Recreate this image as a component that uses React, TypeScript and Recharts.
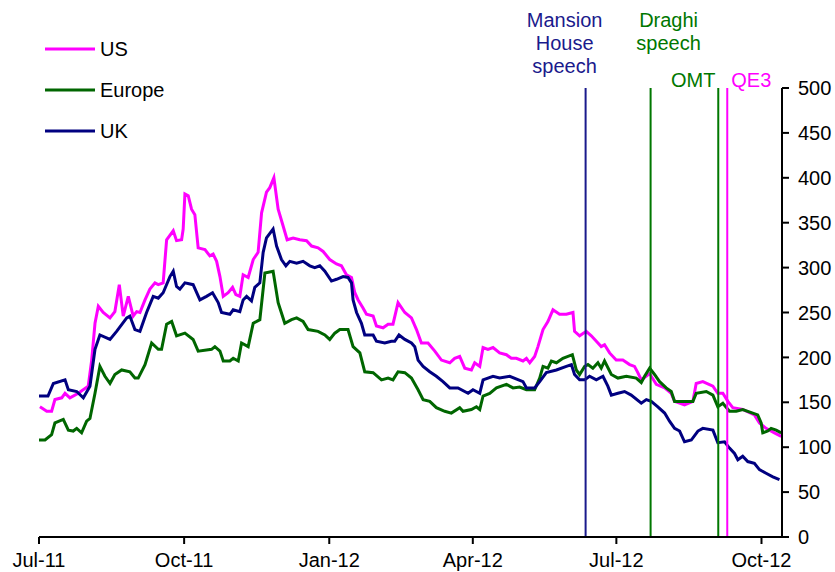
import React from 'react';
import { LineChart, Line, XAxis, YAxis, ReferenceLine } from 'recharts';

// x values are days since 1 Jul 2011
const TICK_DAYS = [0, 92, 184, 275, 366, 458];
const TICK_LABELS = ['Jul-11', 'Oct-11', 'Jan-12', 'Apr-12', 'Jul-12', 'Oct-12'];
const Y_TICKS = [0, 50, 100, 150, 200, 250, 300, 350, 400, 450, 500];

const US: [number, number][] = [
  [0.6, 145], [4.9, 140], [8, 140], [10.1, 153], [14.4, 155], [16.5, 160], [19.6, 155], [24.9, 160],
  [31.2, 168], [33.4, 197], [35.5, 238], [37.6, 257], [40.7, 250], [45, 244], [48.1, 251], [50.9, 281],
  [53.4, 246], [56.6, 268], [59.7, 246], [61.9, 251], [64, 250], [67.2, 264], [70.3, 276], [73.5, 283],
  [75.6, 281], [78.7, 283], [80.9, 331], [85.1, 341], [87.2, 330], [90.4, 331], [91.4, 343], [92.5, 382],
  [94.6, 380], [96.7, 365], [98.8, 359], [100.9, 322], [105.2, 320], [108.3, 313], [110.4, 315], [112.6, 307],
  [114.7, 290], [116.8, 268], [119.9, 272], [122.7, 278], [124.8, 270], [127.3, 268], [129.4, 292], [132.6, 289],
  [135.8, 309], [138.9, 317], [141.1, 361], [144.2, 384], [146.3, 389], [148.9, 400], [151.6, 365], [154.8, 346],
  [157.3, 331], [161.1, 333], [165.3, 331], [169.6, 330], [172.8, 324], [176.9, 322], [180.1, 318], [184.3, 309],
  [188.6, 304], [191.7, 302], [194.9, 292], [198.1, 289], [200.2, 272], [202.3, 264], [205.4, 255], [207.6, 248],
  [211.8, 246], [213.9, 235], [218.1, 233], [221.3, 237], [224.4, 237], [227.6, 261], [231.9, 250], [236.1, 244],
  [239.3, 231], [242.4, 216], [246.6, 216], [250.9, 207], [255.1, 197], [260.4, 194], [263.5, 199], [266.7, 201],
  [269.9, 188], [274.1, 186], [276.2, 194], [279.4, 190], [281.5, 211], [284.6, 209], [287.8, 211], [292, 205],
  [296.3, 203], [299.4, 199], [302.6, 199], [306.8, 196], [309, 199], [311.1, 194], [314.2, 201], [316.3, 212],
  [319.5, 231], [322.6, 240], [325.8, 253], [330, 248], [334.3, 248], [338.5, 250], [339.5, 229], [342.7, 224],
  [346.9, 229], [350.1, 224], [353.3, 218], [356.4, 212], [358.5, 214], [361.7, 205], [365.9, 197], [370.1, 197],
  [374.4, 192], [377.5, 190], [379.6, 183], [381.8, 175], [387.1, 182], [391.3, 170], [396.6, 166], [400.8, 160],
  [402.9, 151], [409.2, 147], [414.5, 151], [416.6, 171], [420.8, 173], [427.2, 168], [430.3, 160], [433.5, 160],
  [436.7, 151], [439.8, 144], [446.1, 142], [453.5, 136], [456.7, 127], [460.9, 121], [466.2, 116], [470.5, 112],
];

const EUROPE: [number, number][] = [
  [0, 108], [3.8, 108], [8, 114], [10.1, 127], [15.4, 131], [18.6, 119], [21.7, 118], [23.9, 121],
  [27, 116], [30.2, 129], [32.3, 132], [35.5, 160], [38.6, 190], [41.8, 179], [45, 171], [48.1, 181],
  [52.4, 186], [57.6, 184], [60.8, 177], [62.9, 177], [67.2, 192], [71.4, 216], [75.6, 209], [77.7, 209],
  [80.9, 237], [84.1, 240], [87.2, 224], [92.5, 227], [97.7, 220], [100.9, 207], [109.4, 209], [111.5, 212],
  [114.7, 207], [116.8, 196], [121, 196], [123.1, 199], [126.3, 196], [128.4, 216], [132.6, 212], [135.8, 238],
  [140, 242], [143.2, 294], [148.4, 296], [151.6, 261], [155.8, 238], [160.1, 242], [163.3, 244], [167.4, 240],
  [170.6, 231], [176.9, 229], [181.2, 225], [184.3, 220], [187.5, 227], [190.7, 231], [195.9, 231], [199.1, 212],
  [203.4, 205], [206.5, 184], [211.8, 183], [217.1, 175], [221.3, 177], [224.4, 175], [227.6, 184], [231.9, 183],
  [236.1, 177], [240.3, 164], [243.5, 153], [247.7, 151], [251.9, 144], [257.2, 140], [261.4, 138], [266.7, 144],
  [268.8, 140], [274.1, 142], [277.3, 145], [279.4, 142], [281.5, 157], [285.7, 160], [290, 166], [296.3, 170],
  [300.5, 166], [304.7, 167], [309, 164], [314.2, 164], [317.4, 177], [319.5, 190], [322.6, 188], [324.8, 196],
  [328, 194], [332.1, 199], [338.1, 203], [340.6, 186], [342.7, 181], [345.9, 190], [348, 192], [351.1, 188],
  [354.3, 194], [356.4, 188], [358.5, 196], [362.8, 181], [367, 177], [372.3, 179], [378.6, 177], [381.8, 172],
  [383.9, 179], [387.1, 188], [390.2, 181], [393.4, 173], [397.6, 166], [400.8, 162], [402.9, 151], [414.5, 151],
  [416.6, 160], [423, 162], [427.2, 158], [430.3, 145], [433.5, 149], [437.7, 140], [442, 140], [446.1, 142],
  [455.6, 136], [457.8, 127], [458.8, 116], [462, 118], [464.1, 121], [467.3, 119], [470.5, 116],
];

const UK: [number, number][] = [
  [0, 157], [5.7, 157], [9.1, 171], [16.5, 175], [18.6, 164], [23.9, 162], [28.1, 155], [32.3, 168],
  [35.5, 209], [38.6, 225], [45, 220], [49.2, 229], [55.6, 244], [57.6, 246], [60.8, 231], [64, 229],
  [68.2, 250], [72.4, 268], [75.6, 266], [78.7, 272], [83, 290], [85.1, 296], [87.2, 279], [89.3, 276],
  [92.5, 283], [97.7, 281], [102, 264], [106.2, 268], [110, 272], [113.6, 261], [115.7, 250], [121, 248],
  [123.1, 253], [127.3, 251], [129.4, 264], [131.6, 268], [134.7, 263], [136.8, 278], [140, 283], [142.1, 317],
  [144.2, 333], [148.4, 343], [150.6, 324], [153.7, 309], [156.5, 302], [159, 307], [163.3, 305], [167.4, 307],
  [171.7, 302], [174.8, 300], [178, 302], [181.2, 296], [185.4, 285], [188.6, 287], [192.8, 290], [195.9, 289],
  [198.1, 283], [199.1, 264], [201.3, 250], [204.4, 238], [206.5, 225], [211.8, 225], [213.9, 218], [219.2, 216],
  [223.4, 218], [225.5, 218], [228.2, 225], [231.9, 220], [236.1, 216], [238.2, 212], [240.3, 197], [243.5, 190],
  [247.7, 184], [251.9, 179], [256.1, 173], [260.4, 166], [265.6, 166], [272, 160], [275.1, 164], [279.4, 160],
  [281.5, 175], [287.8, 179], [292, 177], [298.4, 179], [306.8, 173], [309, 166], [314.2, 166], [317.4, 173],
  [321.6, 183], [328, 186], [334.3, 190], [337.5, 192], [339.5, 181], [342.7, 175], [345.9, 175], [349, 179],
  [353.3, 175], [357.5, 179], [360.6, 168], [362.8, 158], [367, 160], [371.2, 162], [375.4, 158], [381.8, 149],
  [385, 153], [388.1, 151], [392.3, 145], [396.6, 138], [399.7, 129], [402.9, 121], [406.1, 118], [409.2, 106],
  [413.5, 108], [417.7, 118], [420.8, 121], [427.2, 119], [430.3, 105], [434.6, 106], [437.7, 99], [440.9, 93],
  [443, 86], [446.1, 90], [449.3, 84], [453.5, 82], [456.7, 75], [460.9, 71], [465.2, 67], [469.4, 64],
];

const EVENT_DAYS = [346.5, 387.7, 430.6, 436.3];
const EVENT_LABELS = [['Mansion', 'House', 'speech'], ['Draghi', 'speech'], ['OMT'], ['QE3']];

const SERIES_NAMES = ['US', 'Europe', 'UK'];

const FONT = '"Liberation Sans", Arial, sans-serif';
const MAGENTA = '#FF00FF';
const GREEN = '#006600';
const NAVY = '#000080';
const EVENT_COLORS = ['#1a1a8c', '#007700', '#007700', '#FF00FF'];
const EVENT_DX = [-21, 18, -25, 24];
const EVENT_DY = [-61, -61, -1, -1];

const toRows = (s: [number, number][]) => s.map(([d, v]) => ({ d, v }));

const makeLabel = (idx: number) => (props: any) => {
  const vb = props.viewBox || { x: 0, y: 0 };
  const x = vb.x + EVENT_DX[idx];
  const y = vb.y + EVENT_DY[idx];
  return (
    <text fill={EVENT_COLORS[idx]} fontSize={20} fontFamily={FONT} textAnchor="middle">
      {EVENT_LABELS[idx].map((l, i) => (
        <tspan key={i} x={x} y={y + i * 23}>{l}</tspan>
      ))}
    </text>
  );
};

const legendColors = [MAGENTA, GREEN, NAVY];

export default function App() {
  return (
    <div style={{ position: 'absolute', left: 0, top: 0, width: 835, height: 572, background: '#fff' }}>
      <LineChart width={835} height={572} margin={{ top: 88, right: 0, left: 39, bottom: 0 }}>
        <XAxis
          dataKey="d"
          type="number"
          domain={[0, 471]}
          ticks={TICK_DAYS}
          tickFormatter={(v: number) => TICK_LABELS[TICK_DAYS.indexOf(v)] ?? ''}
          allowDataOverflow
          height={35}
          tickSize={7}
          tickMargin={9}
          axisLine={{ stroke: '#000', strokeWidth: 2 }}
          tickLine={{ stroke: '#000', strokeWidth: 2 }}
          tick={{ fill: '#000', fontSize: 20, fontFamily: FONT }}
          interval={0}
        />
        <YAxis
          orientation="right"
          domain={[0, 500]}
          ticks={Y_TICKS}
          width={53}
          tickSize={7}
          tickMargin={9}
          axisLine={{ stroke: '#000', strokeWidth: 2 }}
          tickLine={{ stroke: '#000', strokeWidth: 2 }}
          tick={{ fill: '#000', fontSize: 20, fontFamily: FONT }}
          interval={0}
        />
        <Line data={toRows(US)} dataKey="v" name="US" stroke={MAGENTA} strokeWidth={3} dot={false} type="linear" isAnimationActive={false} />
        <Line data={toRows(EUROPE)} dataKey="v" name="Europe" stroke={GREEN} strokeWidth={3} dot={false} type="linear" isAnimationActive={false} />
        <Line data={toRows(UK)} dataKey="v" name="UK" stroke={NAVY} strokeWidth={3} dot={false} type="linear" isAnimationActive={false} />
        {EVENT_DAYS.map((d, i) => (
          <ReferenceLine key={i} x={d} stroke={EVENT_COLORS[i]} strokeWidth={2} label={makeLabel(i)} />
        ))}
      </LineChart>
      <svg style={{ position: 'absolute', left: 0, top: 0 }} width={200} height={150}>
        {SERIES_NAMES.map((n, i) => (
          <g key={n}>
            <line x1={45} x2={95} y1={49 + i * 41} y2={49 + i * 41} stroke={legendColors[i]} strokeWidth={3} />
            <text x={100} y={49 + i * 41 + 7} fontSize={20} fontFamily={FONT} fill="#000">{n}</text>
          </g>
        ))}
      </svg>
    </div>
  );
}
